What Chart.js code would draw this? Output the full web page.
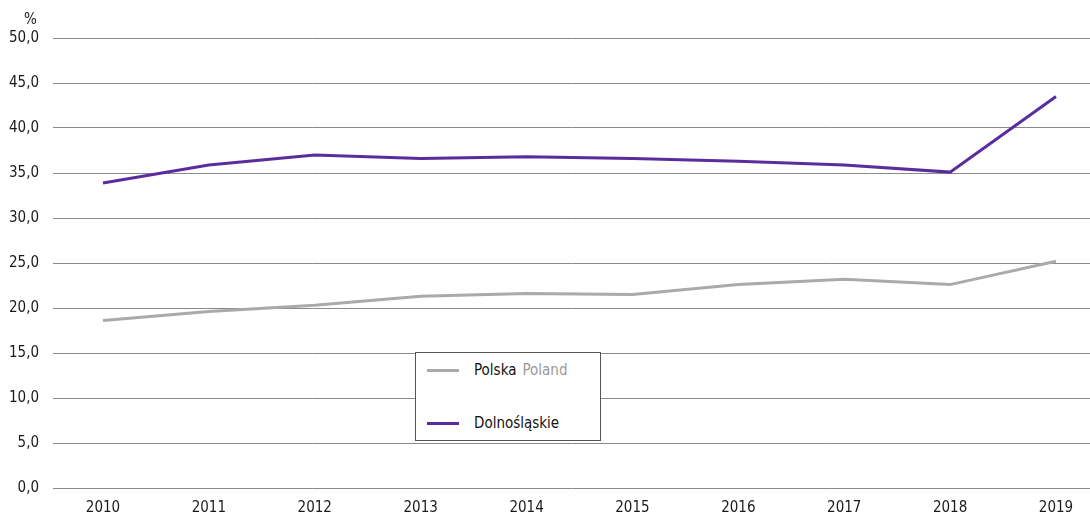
<!DOCTYPE html>
<html>
<head>
    <meta charset="utf-8">
    <title>Dolnośląskie vs Polska</title>
    <script src="https://cdn.jsdelivr.net/npm/chart.js"></script>
    <style>
        html, body { margin:0; padding:0; background:#fff; overflow:hidden; }
        #wrap { position:relative; width:1090px; height:519px; }
        #pct { position:absolute; left:24px; top:10px; font:15px 'Liberation Sans Narrow','DejaVu Sans Condensed',sans-serif; color:#1a1a1a; }
        #legend { position:absolute; left:415px; top:352px; width:184px; height:87px; border:1px solid #555; background:#fff;
                  font:15px 'Liberation Sans Narrow','DejaVu Sans Condensed',sans-serif; color:#111; }
        .item { position:absolute; left:11px; display:flex; align-items:center; }
        .sw { width:32px; height:3px; margin-right:15px; }
        .en { color:#999; margin-left:6px; }
    </style>
</head>
<body>
<div id="wrap">
    <canvas id="chart" width="1090" height="519"></canvas>
    <div id="pct">%</div>
    <div id="legend">
        <div class="item" style="top:8px"><span class="sw" style="background:#aaaaaa"></span>Polska<span class="en">Poland</span></div>
        <div class="item" style="top:61px"><span class="sw" style="background:#5a2d9e"></span>Dolnośląskie</div>
    </div>
</div>
<script>
const years = [2010, 2011, 2012, 2013, 2014, 2015, 2016, 2017, 2018, 2019];
const polska = [18.6, 19.6, 20.3, 21.3, 21.6, 21.5, 22.6, 23.2, 22.6, 25.2];
const dolnoslaskie = [33.9, 35.9, 37.0, 36.6, 36.8, 36.6, 36.3, 35.9, 35.1, 43.5];
const yTicks = [0, 5, 10, 15, 20, 25, 30, 35, 40, 45, 50];

const font = { family:"'Liberation Sans Narrow','DejaVu Sans Condensed',sans-serif", size:15 };
const pts = arr => arr.map((v, i) => ({ x: years[i], y: v }));

new Chart(document.getElementById('chart').getContext('2d'), {
  type: 'line',
  data: {
    datasets: [
      { label:'Polska', data: pts(polska), borderColor:'#aaaaaa', borderWidth:3, pointRadius:0, tension:0 },
      { label:'Dolnośląskie', data: pts(dolnoslaskie), borderColor:'#5a2d9e', borderWidth:3, pointRadius:0, tension:0 }
    ]
  },
  options: {
    responsive:false, animation:false,
    layout:{ padding:{ top:38, right:0, left:0, bottom:0 } },
    plugins:{ legend:{ display:false }, tooltip:{ enabled:false } },
    scales: {
      x: {
        type:'linear', min:2009.528, max:2019.321,
        afterBuildTicks: s => { s.ticks = years.map(v => ({ value:v })); },
        afterFit: s => { s.height = 31; },
        grid:{ display:false, drawTicks:false },
        border:{ display:false },
        ticks:{ padding:11, color:'#1a1a1a', font:font, callback: v => String(v) }
      },
      y: {
        min:0, max:50,
        afterBuildTicks: s => { s.ticks = yTicks.map(v => ({ value:v })); },
        afterFit: s => { s.width = 53; },
        grid:{ color:'#8a8a8a', lineWidth:1, drawTicks:false },
        border:{ display:false },
        ticks:{ padding:14, color:'#1a1a1a', font:font, callback: v => v.toFixed(1).replace('.', ',') }
      }
    }
  }
});
</script>
</body>
</html>
